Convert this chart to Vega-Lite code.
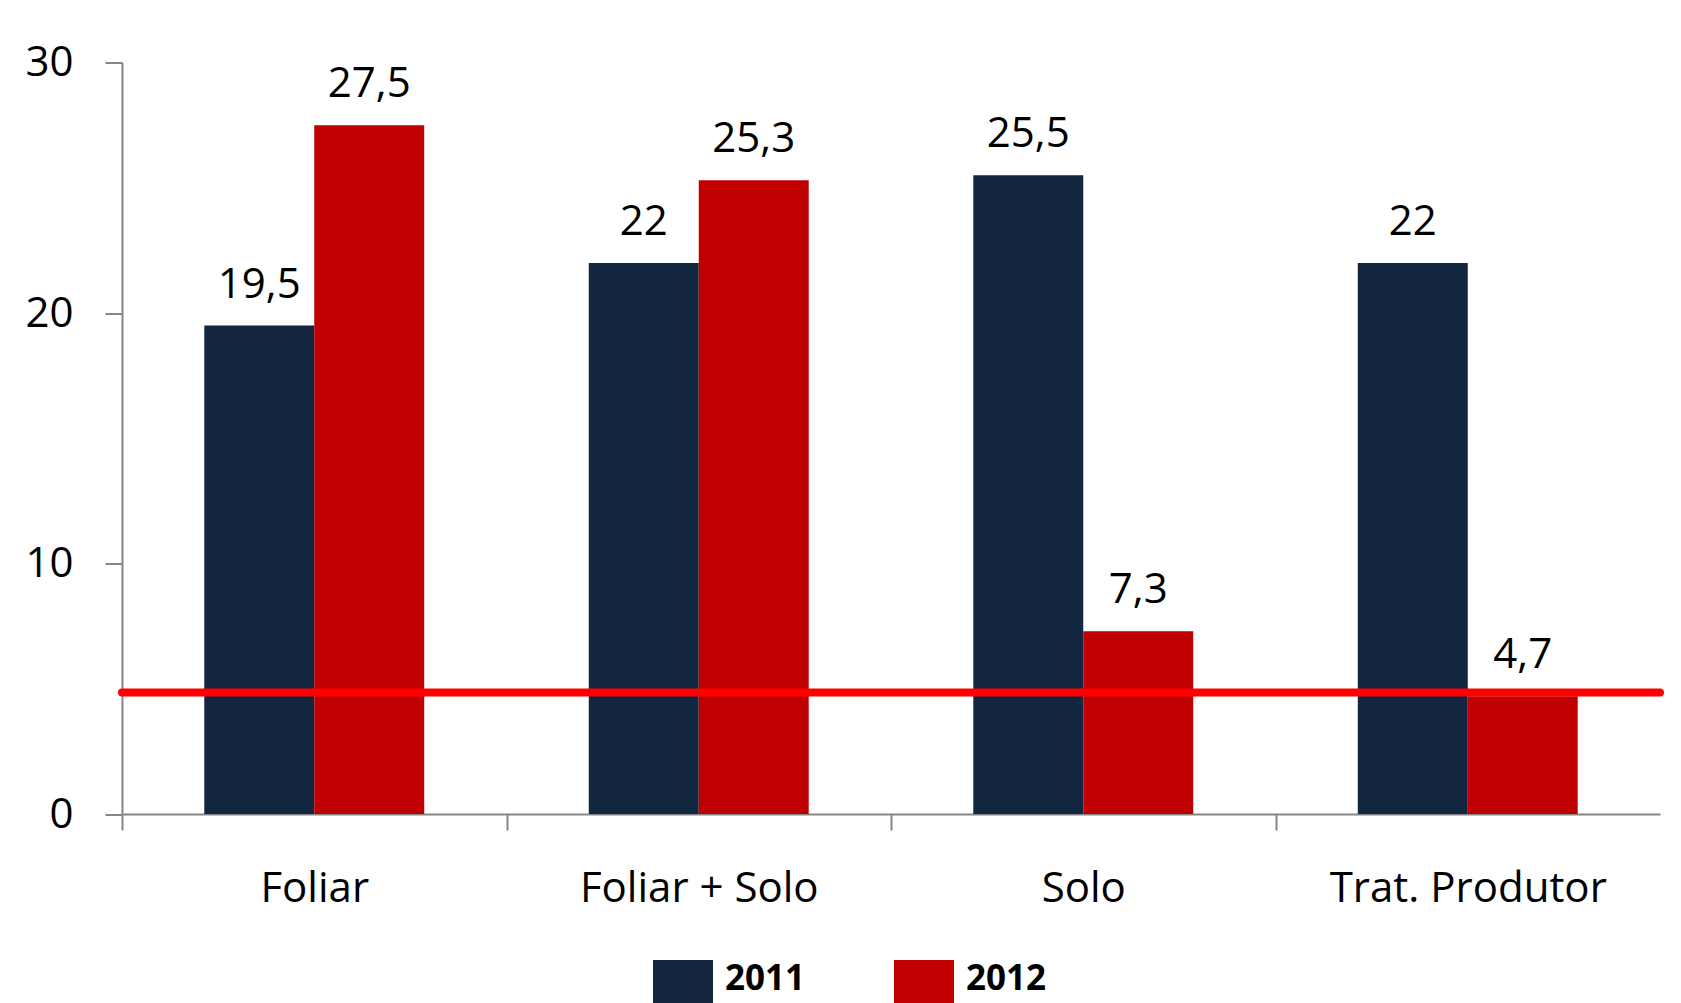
{
  "$schema": "https://vega.github.io/schema/vega-lite/v6.json",
  "width": 1538,
  "height": 751.5,
  "autosize": {"type": "none"},
  "padding": {"left": 122, "top": 62.5, "right": 21, "bottom": 189},
  "background": "white",
  "config": {
    "view": {"stroke": null},
    "font": "Open Sans",
    "locale": {"number": {"decimal": ",", "thousands": ".", "grouping": [3], "currency": ["", ""]}}
  },
  "datasets": {
    "bars": [
      {"tratamento": "Foliar", "ano": "2011", "valor": 19.5},
      {"tratamento": "Foliar", "ano": "2012", "valor": 27.5},
      {"tratamento": "Foliar + Solo", "ano": "2011", "valor": 22},
      {"tratamento": "Foliar + Solo", "ano": "2012", "valor": 25.3},
      {"tratamento": "Solo", "ano": "2011", "valor": 25.5},
      {"tratamento": "Solo", "ano": "2012", "valor": 7.3},
      {"tratamento": "Trat. Produtor", "ano": "2011", "valor": 22},
      {"tratamento": "Trat. Produtor", "ano": "2012", "valor": 4.7}
    ],
    "linha": [{"ref": 4.85}]
  },
  "layer": [
    {
      "data": {"name": "bars"},
      "mark": {"type": "bar"},
      "encoding": {
        "x": {
          "field": "tratamento", "type": "nominal", "sort": null,
          "scale": {"paddingInner": 0.428, "paddingOuter": 0.214},
          "axis": {
            "title": null, "labelAngle": 0, "tickOffset": -192.25, "labelOffset": 192.25,
            "domainColor": "#868686", "domainWidth": 2, "tickColor": "#868686", "tickWidth": 2, "tickSize": 16,
            "labelFont": "Open Sans", "labelFontSize": 42, "labelColor": "black", "labelPadding": 38,
            "labelBaseline": "top", "labelLimit": 500
          }
        },
        "xOffset": {"field": "ano", "type": "nominal", "scale": {"paddingInner": 0, "paddingOuter": 0}},
        "y": {
          "field": "valor", "type": "quantitative",
          "scale": {"domain": [0, 30], "nice": false},
          "axis": {
            "title": null, "values": [0, 10, 20, 30], "grid": false,
            "domainColor": "#868686", "domainWidth": 2, "tickColor": "#868686", "tickWidth": 2, "tickSize": 17,
            "labelFont": "Open Sans", "labelFontSize": 42, "labelColor": "black", "labelPadding": 32
          }
        },
        "color": {
          "field": "ano", "type": "nominal",
          "scale": {"domain": ["2011", "2012"], "range": ["#12263F", "#C00000"]},
          "legend": {
            "title": null, "orient": "none", "direction": "horizontal",
            "legendX": 531, "legendY": 897.5,
            "symbolType": "square", "symbolSize": 3600, "symbolStrokeWidth": 0,
            "labelFont": "Open Sans", "labelFontSize": 35, "labelFontWeight": "bold", "labelColor": "black",
            "labelOffset": 12, "columnPadding": 88, "labelLimit": 300, "labelBaseline": "alphabetic"
          }
        }
      }
    },
    {
      "data": {"name": "linha"},
      "mark": {"type": "rule", "color": "#FF0000", "strokeWidth": 8, "strokeCap": "round"},
      "encoding": {"y": {"field": "ref", "type": "quantitative"}}
    },
    {
      "data": {"name": "bars"},
      "mark": {"type": "text", "baseline": "alphabetic", "dy": -28, "font": "Open Sans", "fontSize": 42, "color": "black"},
      "encoding": {
        "x": {"field": "tratamento", "type": "nominal", "sort": null},
        "xOffset": {"field": "ano", "type": "nominal"},
        "y": {"field": "valor", "type": "quantitative"},
        "text": {"field": "valor", "type": "quantitative", "format": ".1~f"}
      }
    }
  ]
}
